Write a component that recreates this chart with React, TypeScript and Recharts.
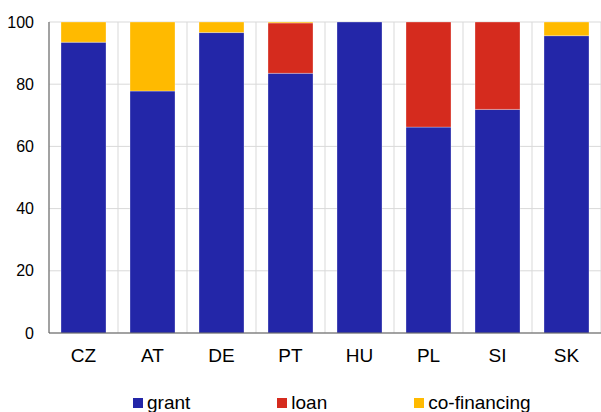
import React from "react";
import {BarChart, Bar, XAxis, YAxis, CartesianGrid, Legend} from "recharts";

const countries = ["CZ", "AT", "DE", "PT", "HU", "PL", "SI", "SK"]
const grant = [93.5, 77.8, 96.6, 83.5, 100, 66.2, 71.9, 95.6]
const loan = [0, 0, 0, 16.2, 0, 33.8, 28.1, 0]
const coFinancing = [6.5, 22.2, 3.4, 0.3, 0, 0, 0, 4.4]
const yTicks = [0, 20, 40, 60, 80, 100]

const series = [
    {key: "grant", name: "grant", color: "#2326A8"},
    {key: "loan", name: "loan", color: "#D52B1E"},
    {key: "coFinancing", name: "co-financing", color: "#FFBA00"},
]

const data = countries.map((c, i) => ({
    country: c,
    grant: grant[i],
    loan: loan[i],
    coFinancing: coFinancing[i],
}))

const FONT = '"Liberation Sans", Arial, sans-serif'

const LegendContent = () => (
    <div style={{height: 37, paddingLeft: 133, display: "flex", fontFamily: FONT, fontSize: 19, color: "#000"}}>
        {series.map((s, i) => (
            <div key={s.key} style={{
                display: "flex",
                alignItems: "center",
                marginTop: 18,
                height: 19,
                lineHeight: "19px",
                marginRight: i < series.length - 1 ? 87 : 0
            }}>
                <span style={{width: 10, height: 10, background: s.color, marginRight: 4, display: "inline-block"}}/>
                <span>{s.name}</span>
            </div>
        ))}
    </div>
)

const bandLines = ({offset}: any) => {
    const step = offset.width / countries.length
    return countries.map((_, i) => offset.left + i * step).concat(offset.left + offset.width)
}

export default function App() {
    return <div style={{position: "absolute", left: 0, top: 0}}>
        <BarChart
            width={601}
            height={412}
            data={data}
            barCategoryGap={12}
            margin={{top: 22, right: 0, left: 0, bottom: 0}}
        >
            <CartesianGrid stroke="#d9d9d9" verticalCoordinatesGenerator={bandLines}/>
            <XAxis
                dataKey="country"
                height={42}
                tickLine={false}
                tickMargin={10}
                axisLine={{stroke: "#595959"}}
                tick={{fill: "#000", fontSize: 19, fontFamily: FONT}}
            />
            <YAxis
                width={49}
                domain={[0, 100]}
                ticks={yTicks}
                tickLine={false}
                tickMargin={9}
                axisLine={{stroke: "#595959"}}
                tick={{fill: "#000", fontSize: 16, fontFamily: FONT}}
            />
            <Legend verticalAlign="bottom" height={37} content={<LegendContent/>}/>
            {series.map(s => (
                <Bar key={s.key} dataKey={s.key} name={s.name} stackId="a" fill={s.color}
                     stroke="rgba(255,255,255,0.3)" strokeWidth={1} isAnimationActive={false}/>
            ))}
        </BarChart>
    </div>
}
